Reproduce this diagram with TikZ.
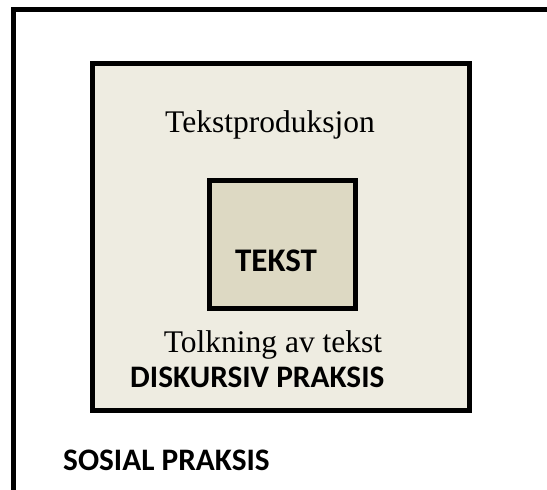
\documentclass[tikz,border=0pt]{standalone}
\usepackage{fontspec}
\setmainfont{Liberation Serif}
\newfontfamily\labelsans{Carlito}
\definecolor{paleframe}{HTML}{EEECE1}
\definecolor{coreframe}{HTML}{DDD9C3}
\tikzset{
  frame/.style={draw=black, line width=5pt, line join=miter, inner sep=0pt},
  serifcaption/.style={font=\fontsize{31.5}{31.5}\selectfont, inner sep=0pt},
  sanscaption/.style={font=\labelsans\bfseries\fontsize{31.3}{31.3}\selectfont, inner sep=0pt}
}
\begin{document}
\begin{tikzpicture}[x=1pt, y=-1pt]
  \useasboundingbox (0,0) rectangle (547,490);
  \clip (0,0) rectangle (547,490);
  \fill[white] (0,0) rectangle (547,490);

  % outer frame: social practice (runs past the right and lower edges)
  \draw[frame] (13,600) -- (13,9.5) -- (640,9.5);

  % middle frame: discursive practice
  \node[frame, fill=paleframe, minimum width=377pt, minimum height=346.5pt]
    (diskursiv) at (281,236.75) {};

  % inner frame: the text
  \node[frame, fill=coreframe, minimum width=145.5pt, minimum height=128pt]
    (tekst) at (282.25,244) {};

  \node[serifcaption, anchor=base] (produksjon) at (270,132) {Tekstproduksjon};
  \node[sanscaption, anchor=base, font=\labelsans\bfseries\fontsize{33}{33}\selectfont]
    (tekstlabel) at (276,271) {TEKST};
  \node[serifcaption, anchor=base] (tolkning) at (273,352) {Tolkning av tekst};
  \node[sanscaption, anchor=base west] (diskursivlabel) at (130,387) {DISKURSIV PRAKSIS};
  \node[sanscaption, anchor=base west] (sosial) at (63,470) {SOSIAL PRAKSIS};
\end{tikzpicture}
\end{document}
